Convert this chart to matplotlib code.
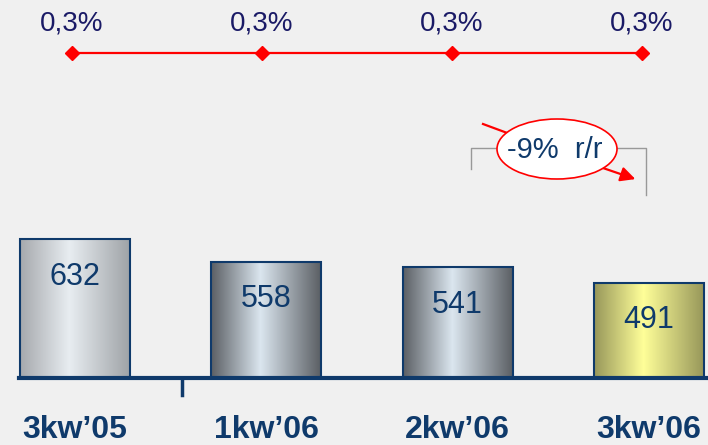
import numpy as np
import matplotlib
matplotlib.use('Agg')
import matplotlib.pyplot as plt
from matplotlib.colors import LinearSegmentedColormap
from matplotlib.patches import Ellipse

plt.rcParams['font.family'] = ['Liberation Sans', 'DejaVu Sans']

# dane
kwartaly = ['3kw\u201905', '1kw\u201906', '2kw\u201906', '3kw\u201906']
wartosci = [632, 558, 541, 491]
udzial = [0.3, 0.3, 0.3, 0.3]
udzial_txt = ['0,3%', '0,3%', '0,3%', '0,3%']
zmiana_txt = '-9%  r/r'

navy = '#0f3a6b'
bg = '#f0f0f0'

# gradienty slupkow (krawedz, srodek, krawedz)
gradienty = [
    ['#a6a9ad', '#e8edf1', '#9fa3a7'],
    ['#5b5f64', '#dbe6ef', '#5b5f64'],
    ['#5b5f64', '#dbe6ef', '#5b5f64'],
    ['#97975a', '#ffff99', '#97975a'],
]

fig = plt.figure(figsize=(7.08, 4.45), dpi=100, facecolor=bg)

# --- slupki ---
ax = fig.add_axes([0, 1 - 378 / 445, 1, 178 / 445])
ax.set_facecolor('none')
x = np.arange(len(wartosci))
w = 0.575
y0 = 180
bars = ax.bar(x, wartosci, w, facecolor='none', edgecolor=navy, linewidth=1.5, zorder=3)
grad = np.linspace(0, 1, 256).reshape(1, -1)
for b, cols, v in zip(bars, gradienty, wartosci):
    cmap = LinearSegmentedColormap.from_list('g', [(0, cols[0]), (0.45, cols[1]), (1, cols[2])])
    im = ax.imshow(grad, extent=[b.get_x(), b.get_x() + w, y0, v], aspect='auto',
                   cmap=cmap, zorder=2)
    im.set_clip_path(b)
    ax.annotate(str(v), (b.get_x() + w / 2, v), xytext=(0, -27), textcoords='offset points',
                ha='center', va='center', fontsize=22, color=navy, zorder=4)
ax.set_xlim(-75 / 191.3, (708 - 75) / 191.3)
ax.set_ylim(y0, y0 + 178 / 0.307)
for s in ax.spines.values():
    s.set_visible(False)
ax.axhline(y0, xmin=19 / 708, xmax=1, color=navy, linewidth=3, zorder=5, clip_on=False)
ax.set_yticks([])
ax.set_xticks(x)
ax.set_xticklabels(kwartaly, fontsize=23, fontweight='bold', color=navy)
ax.tick_params(axis='x', length=0, pad=27)

# --- linia udzialu ---
ax2 = fig.add_axes([0, 1 - 80 / 445, 1, 80 / 445])
ax2.set_facecolor('none')
ax2.plot(np.arange(len(udzial)), udzial, color='#ff0000', linewidth=1.6,
         marker='D', markersize=7.5, markerfacecolor='#ff0000', markeredgecolor='#ff0000')
for i, (u, t) in enumerate(zip(udzial, udzial_txt)):
    ax2.annotate(t, (i, u), xytext=(0, 21), textcoords='offset points', ha='center',
                 va='center', fontsize=20, color='#1a1a66')
ax2.set_xlim(-72 / 190, (708 - 72) / 190)
ax2.set_ylim(0.3 - 0.3375, 0.3 + 0.6625)
ax2.axis('off')

# --- adnotacje ---
ax3 = fig.add_axes([0, 0, 1, 1])
ax3.set_xlim(0, 708)
ax3.set_ylim(445, 0)
ax3.axis('off')
ax3.set_facecolor('none')
ax3.plot([182, 182], [379, 395], color=navy, linewidth=2.5)
ax3.plot([471, 471, 500], [169, 148, 148], color='#999999', linewidth=1)
ax3.plot([615, 646, 646], [148, 148, 195], color='#999999', linewidth=1)
ax3.plot([483, 510], [124, 134], color='#ff0000', linewidth=1.6)
ax3.annotate('', xy=(638, 180), xytext=(600, 167),
             arrowprops=dict(arrowstyle='-|>', color='#ff0000', lw=1.6, mutation_scale=22))
ax3.add_patch(Ellipse((557, 149), 120, 60, facecolor='white', edgecolor='#ff0000',
                      linewidth=1.2, zorder=5))
ax3.text(555, 150, zmiana_txt, ha='center', va='center', fontsize=21, color=navy, zorder=6)

fig.savefig('out.png', dpi=100, facecolor=bg)
